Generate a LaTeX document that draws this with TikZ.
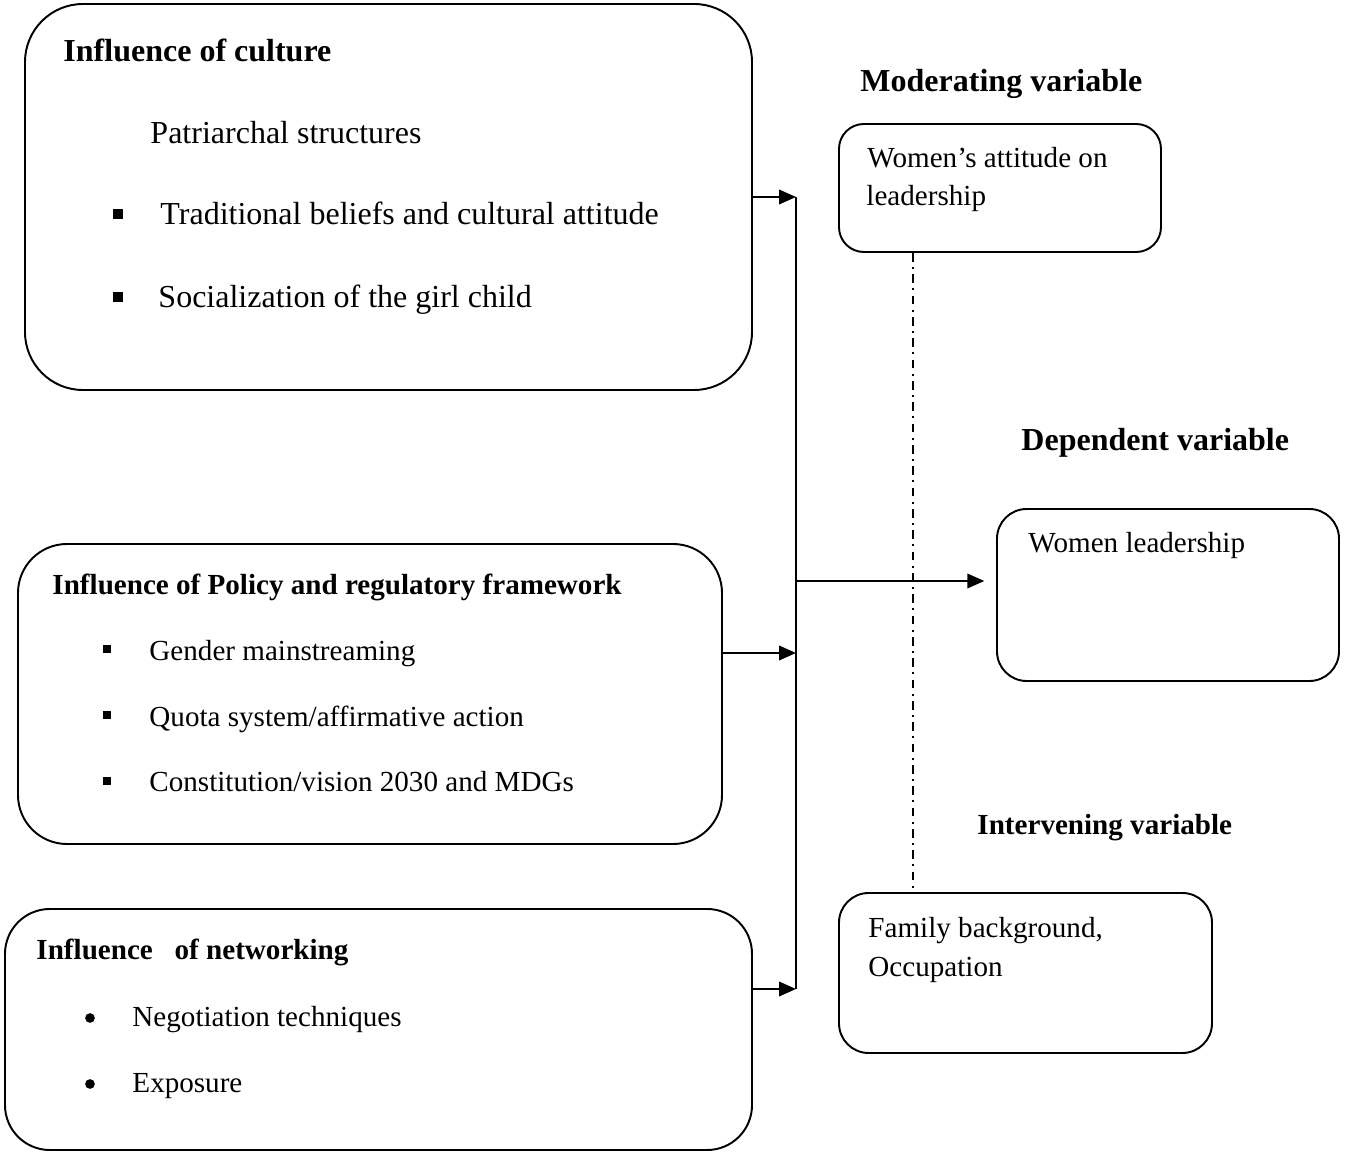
\documentclass[tikz,border=0pt]{standalone}
\usepackage{fontspec}
\setmainfont{Liberation Serif}
\usepackage{tikz}
\usetikzlibrary{arrows.meta,positioning,calc,fit}
\definecolor{fwink}{RGB}{0,0,0}
\tikzset{
  varbox/.style={
    rectangle, draw=fwink, line width=0.8pt, inner sep=0pt
  },
  bigtitle/.style={
    anchor=base west, inner sep=0pt,
    font=\bfseries\fontsize{13.2}{15.8}\selectfont
  },
  vartitle/.style={
    anchor=base west, inner sep=0pt,
    font=\bfseries\fontsize{12}{14.4}\selectfont
  },
  bigitem/.style={
    anchor=base west, inner sep=0pt,
    font=\fontsize{13.2}{15.8}\selectfont
  },
  varitem/.style={
    anchor=base west, inner sep=0pt,
    font=\fontsize{12}{14.4}\selectfont
  },
  sqbullet/.style={
    rectangle, fill=fwink, minimum size=3.6pt, inner sep=0pt
  },
  rdbullet/.style={
    circle, fill=fwink, minimum size=4pt, inner sep=0pt
  },
  linkarrow/.style={-{Triangle[length=7pt,width=6pt]}, line width=0.8pt, fwink},
  modline/.style={line width=0.6pt, fwink,
    dash pattern=on 3.6pt off 2.2pt on 0.8pt off 2.2pt}
}

\begin{document}
\begin{tikzpicture}[x=0.0145cm, y=-0.0145cm]
  \useasboundingbox (0,0) rectangle (1345,1153);

  \node[varbox, rounded corners=0.84cm, fit={(25,4) (752,390)}] (culture) {};
  \node[varbox, rounded corners=0.71cm, fit={(18,544) (722,844)}] (policy) {};
  \node[varbox, rounded corners=0.65cm, fit={(5,909) (752,1150)}] (network) {};
  \node[varbox, rounded corners=0.36cm, fit={(839,124) (1161,252)}] (moder) {};
  \node[varbox, rounded corners=0.43cm, fit={(997,509) (1339,681)}] (depend) {};
  \node[varbox, rounded corners=0.43cm, fit={(839,893) (1212,1053)}] (interv) {};

  \node[bigtitle] (culture_t) at (63,62) {Influence of culture};
  \node[bigitem] (culture_a) at (150,144) {Patriarchal structures};
  \node[bigitem] (culture_b) at (160,225) {Traditional beliefs and cultural attitude};
  \node[bigitem] (culture_c) at (158,308) {Socialization of the girl child};
  \node[sqbullet, minimum size=4pt] at (118,214) {};
  \node[sqbullet, minimum size=4pt] at (118,297) {};

  \node[vartitle] (policy_t) at (52,595) {Influence of Policy and regulatory framework};
  \node[varitem] (policy_a) at (149,661) {Gender mainstreaming};
  \node[varitem] (policy_b) at (149,727) {Quota system/affirmative action};
  \node[varitem] (policy_c) at (149,792) {Constitution/vision 2030 and MDGs};
  \node[sqbullet] at (107,649) {};
  \node[sqbullet] at (107,715) {};
  \node[sqbullet] at (107,781) {};

  \node[vartitle] (network_t) at (36,960) {Influence\ \ \ of networking};
  \node[varitem] (network_a) at (132,1027) {Negotiation techniques};
  \node[varitem] (network_b) at (132,1093) {Exposure};
  \node[rdbullet] at (90,1018) {};
  \node[rdbullet] at (90,1084) {};

  \node[bigtitle] (moder_t) at (860,92) {Moderating variable};
  \node[varitem] (moder_a) at (867,168) {Women’s attitude on};
  \node[varitem] (moder_b) at (866,206) {leadership};

  \node[bigtitle] (depend_t) at (1021,451) {Dependent variable};
  \node[varitem] (depend_a) at (1028,553) {Women leadership};

  \node[vartitle] (interv_t) at (977,835) {Intervening variable};
  \node[varitem] (interv_a) at (868,938) {Family background,};
  \node[varitem] (interv_b) at (868,977) {Occupation};

  \coordinate (bustop) at (796,197);
  \coordinate (busbot) at (796,989);
  \coordinate (polin) at (796,653);
  \coordinate (busout) at (796,581);
  \coordinate (modlink) at (913,0);

  \draw[line width=0.8pt, fwink] (bustop) -- (busbot);
  \draw[linkarrow] (culture.east) -- (culture.east -| bustop);
  \draw[linkarrow] (policy.east |- polin) -- (polin);
  \draw[linkarrow] (network.east |- busbot) -- (busbot);
  \draw[linkarrow, shorten >=0.17cm] (busout) -- (busout -| depend.west);
  \draw[modline] (moder.south -| modlink) -- (interv.north -| modlink);
\end{tikzpicture}
\end{document}
